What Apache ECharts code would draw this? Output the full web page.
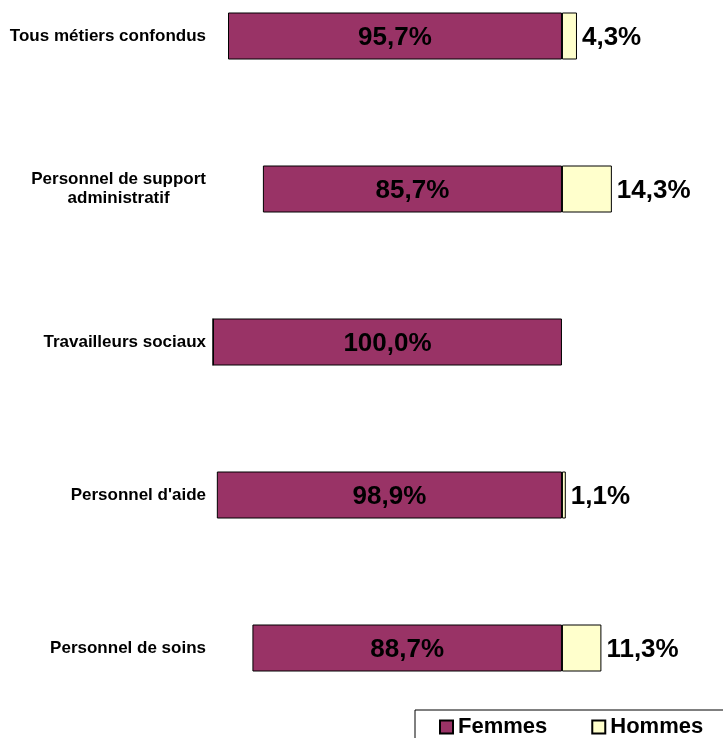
<!DOCTYPE html>
<html>
<head>
<meta charset="utf-8">
<script src="https://cdn.jsdelivr.net/npm/echarts@6/dist/echarts.min.js"></script>
<style>
html,body{margin:0;padding:0;background:#fff;}
#chart{width:723px;height:738px;}
</style>
</head>
<body>
<div id="chart"></div>
<script>
var categories = ['Tous métiers confondus', 'Personnel de support\nadministratif', 'Travailleurs sociaux', "Personnel d'aide", 'Personnel de soins'];
var femmes = [95.7, 85.7, 100.0, 98.9, 88.7];
var hommes = [4.3, 14.3, 0, 1.1, 11.3];
var seriesNames = ['Femmes', 'Hommes'];

function fmt(v) {
  return Math.abs(v).toFixed(1).replace('.', ',') + '%';
}

var chart = echarts.init(document.getElementById('chart'));
var font = 'Liberation Sans, Arial, sans-serif';
chart.setOption({
  animation: false,
  backgroundColor: '#ffffff',
  textStyle: { fontFamily: font },
  grid: { left: 213, right: 4, top: 36, bottom: 90, containLabel: false },
  xAxis: {
    type: 'value', min: -100, max: 45, show: false
  },
  yAxis: {
    type: 'category',
    data: categories,
    inverse: true,
    boundaryGap: false,
    axisLine: { show: false, onZero: false },
    axisTick: { show: false },
    splitLine: { show: false },
    axisLabel: {
      margin: 7,
      align: 'right',
      formatter: function (v) {
        var lines = v.split('\n');
        if (lines.length === 1) return '{a|' + v + '}';
        return lines.map(function (l) { return '{b|' + l + '}'; }).join('\n');
      },
      rich: {
        a: { fontFamily: font, fontWeight: 'bold', fontSize: 17, color: '#000', lineHeight: 19 },
        b: { fontFamily: font, fontWeight: 'bold', fontSize: 17, color: '#000', lineHeight: 19, align: 'center' }
      }
    }
  },
  legend: {
    left: 415, top: 710, width: 360,
    orient: 'horizontal',
    data: seriesNames,
    itemWidth: 13, itemHeight: 13,
    itemGap: 44,
    padding: [6, 24, 6, 24],
    borderColor: '#000', borderWidth: 1,
    icon: 'rect',
    textStyle: { fontFamily: font, fontWeight: 'bold', fontSize: 22, color: '#000' }
  },
  series: [
    {
      name: seriesNames[0], type: 'bar', stack: 'total', barWidth: 47,
      data: femmes.map(function (v) { return -v; }),
      itemStyle: { color: '#993366', borderColor: '#000', borderWidth: 1 },
      label: {
        show: true, position: 'inside', offset: [0, 2],
        formatter: function (p) { return fmt(p.value); },
        fontFamily: font, fontWeight: 'bold', fontSize: 26, color: '#000'
      }
    },
    {
      name: seriesNames[1], type: 'bar', stack: 'total', barWidth: 47,
      data: hommes,
      itemStyle: { color: '#FFFFCC', borderColor: '#000', borderWidth: 1 },
      label: {
        show: true, position: 'right', distance: 5, offset: [0, 2],
        formatter: function (p) { return p.value > 0 ? fmt(p.value) : ''; },
        fontFamily: font, fontWeight: 'bold', fontSize: 26, color: '#000'
      }
    }
  ]
});
</script>
</body>
</html>
